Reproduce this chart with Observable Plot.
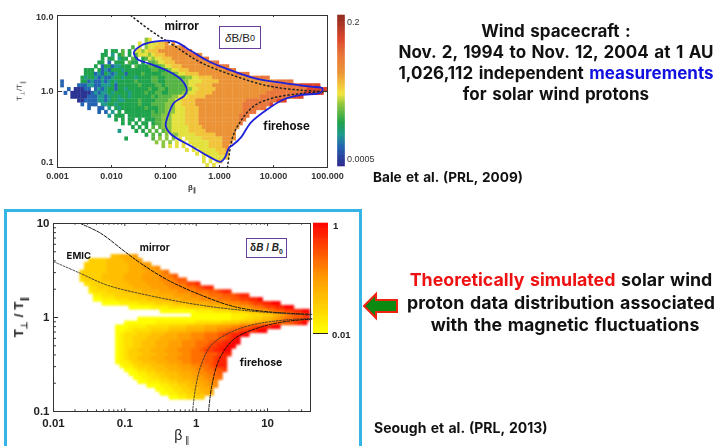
<!DOCTYPE html>
<html><head><meta charset="utf-8">
<script src="https://cdn.jsdelivr.net/npm/d3@7"></script>
<script src="https://cdn.jsdelivr.net/npm/@observablehq/plot@0.6"></script>
<style>
html,body{margin:0;padding:0;background:#fff;width:718px;height:446px;overflow:hidden}
#root{position:relative;width:718px;height:446px;overflow:hidden}
#root>svg{position:absolute;filter:blur(0.35px)}
.t{position:absolute;white-space:nowrap;line-height:1;font-family:Inter,"Noto Sans",sans-serif;font-weight:700;color:#111;transform:translate(-50%,-50%);filter:blur(0.3px)}
.l{transform:translate(0,-50%)}
.box{position:absolute;border:1.5px solid #6a3d9a;background:#fff;box-sizing:border-box;display:flex;align-items:center;justify-content:center;white-space:nowrap;font-family:"Liberation Sans",sans-serif;color:#222}
</style></head><body><div id="root">
<div style="position:absolute;left:4px;top:209px;width:352px;height:245px;border:3px solid #35b4e6;box-sizing:content-box"></div>
</div>
<script>
// ---- top panel: Wind data (Bale et al. 2009), one string per T-ratio band, one char per beta bin
const topStart=[0,0,0,0,0,0,26,24,22,14,13,13,12,11,8,8,7,1,1,3,2,4,6,7,9,12,15,17,19,22,18,26,20,29,31,38,41,43,43,44];
const topCells=["","","","","","",
"56",
"6 5666778 8",
"4 6 566777888889",
"3 33 4 3 "+"66567778888888998",
"33 2 34 3 46"+"665677788888889998",
"3 33 233 43 346"+"56677788888889899",
"33 1 333 433 3 44"+"5667778888888988999",
"3 133122333 43334434"+"56677788888888889999",
"333 312133323333333344334"+"56677788888888888999",
"333121321233133334333334444"+"5667777888888888889999",
"3233212112"+"3323332333"+"34433444444"+"5566777788888888888899999",
"1     "+"3312112123"+"2333334333"+"34433444445"+"56666"+"77777"+"88888888"+"8888"+"8888899999",
"1    "+"1112211222"+"3133333343"+"3334434444"+"445"+"6677777888"+"8888888888"+"8888999999"+"999aaaaaa",
"1 00011 12"+"1233133233"+"3333433443"+"444445"+"5667777788"+"8888888888"+"8888899999"+"99999aaaaa"+"a",
"1 00000012"+"1223233332"+"3333433443"+"344445"+"5667777788"+"8888888888"+"8888999999"+"99999aaaaa"+"a",
"0000011122"+"1233233233"+"33334344445"+"5666777778"+"8888888888"+"8888899999"+"99999aaa",
"0011112212"+"3322333343"+"33344445"+"5667777888"+"8888888888"+"8899999999"+"9aaa",
"1 111 2233"+"2333333433"+"344445"+"5566777788"+"8888888888"+"8899999999"+"a",
"1  11 2 32"+"3333333433"+"3445"+"5566677778"+"8888888888"+"889999999",
"1 1 2 3 33"+"33333343445"+"5566677778"+"8888888888"+"889999",
"2 333 3333"+"3334445"+"5566667777"+"8888888888"+"88999",
"3 3 33 3 3"+"33445"+"5566667777"+"8888888888"+"8899",
"3 3 3 33 3"+"445"+"5566667777"+"8888888888"+"889",
"3 3 3 4 45"+"5566666777"+"7888888888"+"88",
"2    "+"3 3 4 4 45"+"5666667777"+"7888888888",
"3 4 4 5 55"+"6666677777"+"7888888",
"3       "+"4 5 5 5 6 6"+"6666777777"+"8888",
"5 5 5 6 6 666"+"6667777888",
"5 6 6 6  6666"+"6777788",
"6 6 666667778",
"6 66666777",
"6 666667",
"6 6 67",
"6 6"];
const topLevelValues=[0.00056,0.00103,0.00166,0.00268,0.00384,0.0055,0.0079,0.012,0.02,0.04,0.075,0.148];
const topStops=[0.0005,0.00103,0.00166,0.00268,0.0055,0.0085,0.02,0.04,0.075,0.2];
const topColors=["#2c2a8c","#2463b2","#1f9a8e","#1fa24c","#8cc63f","#f4e63c","#ec9236","#e8763a","#dc452c","#8a2a1e"];

const contourBeta=[0.026,0.035,0.062,0.145,0.294,0.60,1.41,4.38,15.8,49,80.7,75,32,15.8,7.74,3.8,2.48,1.74,1.51,1.26,1.06,0.69,0.294,0.126,0.101,0.117,0.145,0.222,0.248,0.192,0.109,0.0535,0.0303];
const contourRatio=[3.27,4.0,4.52,4.56,3.44,2.54,1.97,1.5,1.29,1.16,1.1,0.97,0.90,0.79,0.585,0.39,0.247,0.196,0.183,0.135,0.119,0.135,0.192,0.274,0.352,0.529,0.716,0.877,1.04,1.45,1.87,2.29,2.67];
const topMirrorBeta=[0.0228,0.0535,0.145,0.45,1.87,7.74,32,93];
const topMirrorRatio=[10,6.3,4.0,2.41,1.61,1.19,1.04,1];
const topHoseBeta=[1.41,1.74,2.48,4.38,10.3,32,93];
const topHoseRatio=[0.1,0.247,0.41,0.647,0.83,0.94,1];
const topXTicks=[0.001,0.01,0.1,1,10,100];
const topXLabels=["0.001","0.010","0.100","1.000","10.000","100.000"];
const topYTicks=[0.1,1,10];
const topYLabels=["0.1","1.0","10.0"];
const topYNudge=[-5,0,2];

// ---- bottom panel: simulation (Seough et al. 2013)
const simStart=[0,0,0,0,0,0,0,0,13,8,7,7,6,6,6,7,8,8,9,9,11,17,24,31,19,16,14,14,14,14,14,14,14,14,14,14,15,16,17,18,19,21,23,24,26];
const simCells=["","","","","","","","",
"445556",
"333344445556",
"333334444455566",
"33333444445556667",
"33333344444555566678",
"3333344444555566667789",
"233334444455556666777899",
"22333344445555666677788aab",
"2233334444555566667777889abb",
"12223333444455556666777788899abb",
"11222333334444555566667777888999abb",
"001112223333444455556666777788899aabbc",
"0000111122223333444455556666777889aabbcc",
"0000011112222333344445556667889aabbcc",
"0000000011112222333445667899aabbcc",
"0000000001111222334567899abb",
"0000000000000000000001112233445678899abb",
"00000001111111112222223333444556678899abc",
"0001111222223333444455566677889aabbcc",
"0011222233334444555566677889aabbcc",
"012223334445556667778889aabbcc",
"0122333444555566677788899abc",
"0122334445556667778889aabbcc",
"012233444555666777889aabbcc",
"01233444555666777889aabbcc",
"01233344455566677888999abb",
"0123344455566677788899abb",
"0112334445556667788899abb",
"011233344455566677889abb",
"0012233444555666778899a",
"001122334445556677889",
"00112233444555667788",
"001112233444556677",
"0001122334455667",
"0011223344556",
"001122334455",
"00112233"];
const simLevelValues=[0.01,0.0145,0.021,0.03,0.044,0.063,0.091,0.13,0.19,0.27,0.4,0.6,1];
const simStops=[0.01,0.1,1];
const simColors=["#ffff00","#ff9a00","#ff0000"];

const simMirrorBeta=[0.0238,0.0455,0.1,0.167,0.40,1.17,3.47,10.2,41.7];
const simMirrorRatio=[10,7.9,5.02,3.77,2.5,1.73,1.3,1.15,1.08];
const emicBeta=[0.01,0.0238,0.0565,0.23,1.17,5.9,41.7];
const emicRatio=[3.93,2.95,2.21,1.70,1.35,1.17,1.06];
const hoseInBeta=[0.89,0.975,1.17,1.62,2.79,5.9,17.5,41.7];
const hoseInRatio=[0.1,0.175,0.31,0.507,0.675,0.83,0.94,0.975];
const hoseOutBeta=[1.49,1.66,2.13,3.47,8.2,19.5,41.7];
const hoseOutRatio=[0.1,0.19,0.365,0.597,0.795,0.914,0.96];
const simXTicks=[0.01,0.1,1,10];
const simXMinor=[0.02,0.03,0.04,0.05,0.06,0.07,0.08,0.09,0.2,0.3,0.4,0.5,0.6,0.7,0.8,0.9,2,3,4,5,6,7,8,9,20,30,40];
const simYTicks=[0.1,1,10];
const simYMinor=[0.2,0.3,0.4,0.5,0.6,0.7,0.8,0.9,2,3,4,5,6,7,8,9];

const alpha="0123456789abc";
function cells(starts,rows,values,xLow,xPer,yHigh,yPer){
  const out=[];
  rows.forEach((row,r)=>[...row].forEach((ch,i)=>{
    if(ch===" ")return;
    const c=starts[r]+i;
    out.push({x1:10**(xLow+c/xPer),x2:10**(xLow+(c+1)/xPer),
      y1:10**(yHigh-r/yPer),y2:10**(yHigh-(r+1)/yPer),v:values[alpha.indexOf(ch)]});
  }));
  return out;
}
const pts=(xs,ys)=>xs.map((x,i)=>({x,y:ys[i]}));
const root=document.getElementById("root");
function place(svg,left,top,blur){svg.style.left=left+"px";svg.style.top=top+"px";if(blur)svg.style.filter=`blur(${blur}px)`;root.appendChild(svg);}
const lab=(x,y,text,size)=>Plot.text([{x,y,text}],{x:"x",y:"y",text:"text",fontSize:size,fontWeight:700,fill:"#111",fontFamily:"Inter,'Noto Sans',sans-serif"});

const topFrame={width:350,height:200,marginLeft:57,marginRight:23,marginTop:15,marginBottom:33,
  x:{type:"log",domain:[0.001,100],axis:null},
  y:{type:"log",domain:[0.1,10],axis:null},
  color:{type:"log",domain:topStops,range:topColors},
  style:{background:"transparent",fontFamily:"'Liberation Sans',sans-serif"}};
// top heat layer
place(Plot.plot({...topFrame,marks:[
  Plot.rect(cells(topStart,topCells,topLevelValues,-3,16,1,20),{x1:"x1",x2:"x2",y1:"y1",y2:"y2",fill:"v",inset:-0.15,clip:true})
]}),0,0,0.7);
// top chart lines, axes
place(Plot.plot({...topFrame,marks:[
    Plot.line(pts(topMirrorBeta,topMirrorRatio),{x:"x",y:"y",curve:"catmull-rom",stroke:"#222",strokeWidth:1.5,strokeDasharray:"1.2 3"}),
    Plot.line(pts(topHoseBeta,topHoseRatio),{x:"x",y:"y",curve:"catmull-rom",stroke:"#222",strokeWidth:1.5,strokeDasharray:"1.2 3"}),
    Plot.line(pts(contourBeta,contourRatio),{x:"x",y:"y",curve:"catmull-rom-closed",stroke:"#1f22d8",strokeWidth:1.8}),
    Plot.frame({stroke:"#333",strokeWidth:1}),
    Plot.ruleX(topXTicks,{x:d=>d,y1:0.1,y2:0.106,stroke:"#333"}),
    Plot.ruleX(topXTicks,{x:d=>d,y1:10,y2:9.4,stroke:"#333"}),
    Plot.ruleY(topYTicks,{y:d=>d,x1:0.001,x2:0.00125,stroke:"#333"}),
    Plot.ruleY(topYTicks,{y:d=>d,x1:100,x2:80,stroke:"#333"}),
    Plot.text(topXTicks,{x:d=>d,y:0.1,text:(d,i)=>topXLabels[i],dy:9,lineAnchor:"middle",fontSize:9,fontWeight:700,fill:"#333"}),
    ...topYTicks.map((d,i)=>Plot.text([d],{x:0.001,y:v=>v,text:()=>topYLabels[i],dx:-4,dy:topYNudge[i],textAnchor:"end",lineAnchor:"middle",fontSize:9,fontWeight:700,fill:"#333"})),
    lab(0.2,7.2,"mirror",11.5),
    lab(17.4,0.347,"firehose",11.5)
]}),0,0);

const simFrame={width:320,height:241,marginLeft:53,marginRight:10,marginTop:18,marginBottom:35,
  x:{type:"log",domain:[0.01,40],axis:null},
  y:{type:"log",domain:[0.1,10],axis:null},
  color:{type:"log",domain:simStops,range:simColors},
  style:{background:"transparent",fontFamily:"'Liberation Sans',sans-serif"}};
place(Plot.plot({...simFrame,marks:[
  Plot.rect(cells(simStart,simCells,simLevelValues,-2,16,1,24),{x1:"x1",x2:"x2",y1:"y1",y2:"y2",fill:"v",inset:-0.3,clip:true})
]}),0,205,0.8);
place(Plot.plot({...simFrame,marks:[
    Plot.line(pts(simMirrorBeta,simMirrorRatio),{x:"x",y:"y",curve:"catmull-rom",stroke:"#111",strokeWidth:1,strokeDasharray:"3 1.5"}),
    Plot.line(pts(emicBeta,emicRatio),{x:"x",y:"y",curve:"catmull-rom",stroke:"#333",strokeWidth:0.9,strokeDasharray:"2 1.5"}),
    Plot.line(pts(hoseInBeta,hoseInRatio),{x:"x",y:"y",curve:"catmull-rom",stroke:"#333",strokeWidth:0.9,strokeDasharray:"2 1.5"}),
    Plot.line(pts(hoseOutBeta,hoseOutRatio),{x:"x",y:"y",curve:"catmull-rom",stroke:"#111",strokeWidth:1,strokeDasharray:"3 1.5"}),
    Plot.frame({stroke:"#333",strokeWidth:1}),
    Plot.ruleX(simXTicks,{x:d=>d,y1:0.1,y2:0.107,stroke:"#333"}),
    Plot.ruleX(simXMinor,{x:d=>d,y1:0.1,y2:0.104,stroke:"#333"}),
    Plot.ruleX(simXTicks,{x:d=>d,y1:10,y2:9.3,stroke:"#333"}),
    Plot.ruleX(simXMinor,{x:d=>d,y1:10,y2:9.6,stroke:"#333"}),
    Plot.ruleY(simYTicks,{y:d=>d,x1:0.01,x2:0.0118,stroke:"#333"}),
    Plot.ruleY(simYMinor,{y:d=>d,x1:0.01,x2:0.011,stroke:"#333"}),
    Plot.text(simXTicks,{x:d=>d,y:0.1,text:d=>String(d),dy:12,lineAnchor:"middle",fontSize:11.5,fontWeight:700,fill:"#222"}),
    Plot.text(simYTicks,{x:0.01,y:d=>d,text:d=>String(d),dx:-4,textAnchor:"end",lineAnchor:"middle",fontSize:11.5,fontWeight:700,fill:"#222"}),
    lab(0.263,5.55,"mirror",10),
    lab(0.0226,4.57,"EMIC",9.5),
    lab(8.1,0.332,"firehose",10.5)
]}),0,205);

// colour bars
const topBar=d3.range(0,61).map(i=>0.0005*(400**(i/60)));
place(Plot.plot({
  width:10,height:155,margin:0,marginTop:2,marginBottom:2,
  x:{domain:[0,1],axis:null},y:{type:"log",domain:[0.0005,0.2],axis:null},
  color:{type:"log",domain:topStops,range:topColors},
  style:{background:"transparent"},
  marks:[Plot.rect(d3.pairs(topBar),{x1:0.15,x2:0.85,y1:d=>d[0],y2:d=>d[1],fill:d=>d[0],inset:-0.3})]
}),336,13);
const simBar=d3.range(0,61).map(i=>0.01*(100**(i/60)));
place(Plot.plot({
  width:15,height:112,margin:0,marginTop:1,marginBottom:1,
  x:{domain:[0,1],axis:null},y:{type:"log",domain:[0.01,1],axis:null},
  color:{type:"log",domain:simStops,range:simColors},
  style:{background:"transparent"},
  marks:[
    Plot.rect(d3.pairs(simBar),{x1:0,x2:1,y1:d=>d[0],y2:d=>d[1],fill:d=>d[0],inset:-0.3}),
    Plot.ruleY([0.01],{stroke:"#222",strokeWidth:1})
  ]
}),313,222);

// text
const texts=[
 [556,31,"Wind spacecraft :",17,1.5],
 [556,52,"Nov. 2, 1994 to Nov. 12, 2004 at 1 AU",17,1.5],
 [556,73,'1,026,112 independent <span style="color:#1010e0">measurements</span>',17,1.5],
 [556,94,"for solar wind protons",17,1.5],
 [561,280,'<span style="color:#ee1111">Theoretically simulated</span> solar wind',17.8,1.5],
 [561,303,"proton data distribution associated",17.8,1.5],
 [565,325,"with the magnetic fluctuations",17.8,1.5]];
texts.forEach(([x,y,h,s,w])=>{const d=document.createElement("div");d.className="t";d.style.cssText=`left:${x}px;top:${y}px;font-size:${s}px;word-spacing:${w}px`;d.innerHTML=h;root.appendChild(d);});
[[373,178,"Bale et al. (PRL, 2009)",13.6],[374,428,"Seough et al. (PRL, 2013)",14]].forEach(([x,y,h,s])=>{const d=document.createElement("div");d.className="t l";d.style.cssText=`left:${x}px;top:${y}px;font-size:${s}px;word-spacing:1px`;d.textContent=h;root.appendChild(d);});
const plain=(x,y,h,s,extra="")=>{const d=document.createElement("div");d.style.cssText=`position:absolute;left:${x}px;top:${y}px;font:${s}px 'Liberation Sans',sans-serif;color:#333;white-space:nowrap;transform:translate(0,-50%);filter:blur(0.25px);${extra}`;d.innerHTML=h;root.appendChild(d);};
plain(347,22,"0.2",9);
plain(347,159,"0.0005",9);
plain(333,225,"1",9.5,"font-weight:700;color:#222");
plain(332,334,"0.01",9.5,"font-weight:700;color:#222");
plain(20,91,"T<sub style='font-size:6px'>⊥</sub>/T<sub style='font-size:6px'>∥</sub>",8,"transform:translate(-50%,-50%) rotate(-90deg)");
plain(192,188,"<b>β<sub style='font-size:6px'>∥</sub></b>",8,"transform:translate(-50%,-50%)");
plain(20,317,"<b>T<sub style='font-size:9px'>⊥</sub> / T<sub style='font-size:9px'>∥</sub></b>",13.5,"transform:translate(-50%,-50%) rotate(-90deg);color:#222");
plain(182,436,"β<sub style='font-size:9px'> ∥</sub>",14,"transform:translate(-50%,-50%);color:#222");
const box=(x,y,w,h,html,s)=>{const d=document.createElement("div");d.className="box";d.style.cssText=`left:${x}px;top:${y}px;width:${w}px;height:${h}px;font-size:${s}px`;d.innerHTML=html;root.appendChild(d);};
box(219,26,42,23,"<i>δ</i>B/B<span style='font-size:9px'>0</span>",11.5);
box(246,238,41,20,"<b>δ<i>B</i> / <i>B</i><sub style='font-size:7px'>0</sub></b>",10);

// arrow
const ns="http://www.w3.org/2000/svg";
const arrow=document.createElementNS(ns,"svg");
arrow.setAttribute("width",40);arrow.setAttribute("height",34);
arrow.style.cssText="position:absolute;left:361px;top:289px;filter:blur(0.3px)";
arrow.innerHTML='<polygon points="3,17 15,5 15,11 36,11 36,23 15,23 15,29" fill="#0a8a10" stroke="#ee2211" stroke-width="2"/>';
root.appendChild(arrow);
</script></body></html>
